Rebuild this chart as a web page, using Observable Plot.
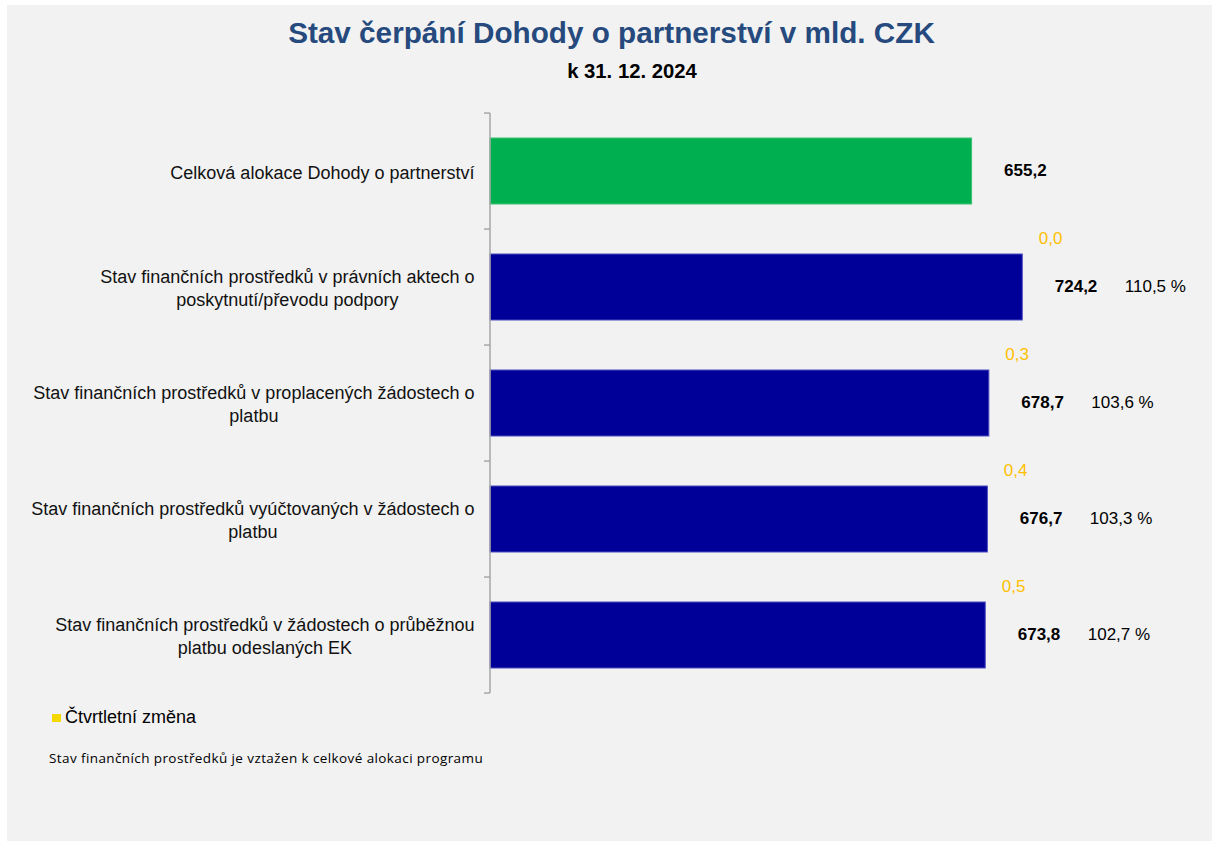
<!DOCTYPE html>
<html>
<head>
<meta charset="utf-8">
<script src="https://cdn.jsdelivr.net/npm/d3@7"></script>
<script src="https://cdn.jsdelivr.net/npm/@observablehq/plot@0.6"></script>
<style>
  html, body { margin: 0; padding: 0; background: #ffffff; }
  body { width: 1212px; height: 843px; position: relative; overflow: hidden; font-family: "Liberation Sans", Arial, sans-serif; }
  #panel { position: absolute; left: 7px; top: 5px; width: 1205px; height: 836px; background: #f2f2f2; }
  #title { position: absolute; left: 0; top: 18px; width: 1223px; text-align: center; font-size: 29.7px; line-height: 29px; font-weight: bold; color: #264a7e; }
  #subtitle { position: absolute; left: 0; top: 61px; width: 1264px; text-align: center; font-size: 20.3px; line-height: 20px; font-weight: bold; color: #000; }
  #chart { position: absolute; left: 0; top: 100px; }
  #legend { position: absolute; left: 52px; top: 706px; font-size: 18px; line-height: 22px; color: #000; display: flex; align-items: center; }
  #legend .sw { width: 9px; height: 8px; background: #f5d800; margin-right: 4px; margin-top: 1px; }
  #note { position: absolute; left: 49px; top: 748px; font-family: "Open Sans", sans-serif; font-size: 13.5px; letter-spacing: 0.4px; line-height: 20px; color: #000; }
</style>
</head>
<body>
<div id="panel"></div>
<div id="title">Stav čerpání Dohody o partnerství v mld. CZK</div>
<div id="subtitle">k 31. 12. 2024</div>
<div id="chart"></div>
<div id="legend"><span class="sw"></span><span>Čtvrtletní změna</span></div>
<div id="note">Stav finančních prostředků je vztažen k celkové alokaci programu</div>
<script>
// ---- data ----
const categories = [
  "Celková alokace Dohody o partnerství",
  "Stav finančních prostředků v právních aktech o\nposkytnutí/převodu podpory",
  "Stav finančních prostředků v proplacených žádostech o\nplatbu",
  "Stav finančních prostředků vyúčtovaných v žádostech o\nplatbu",
  "Stav finančních prostředků v žádostech o průběžnou\nplatbu odeslaných EK"
];
const values = [655.2, 724.2, 678.7, 676.7, 673.8];
const percents = [null, 110.5, 103.6, 103.3, 102.7];
const quarterlyChange = [null, 0.0, 0.3, 0.4, 0.5];

const data = categories.map((c, i) => ({
  category: c, value: values[i], pct: percents[i], change: quarterlyChange[i], idx: i
}));

const fmt = v => v.toFixed(1).replace(".", ",");
const GREEN = "#00b050", BLUE = "#000099", ORANGE = "#ffc000", AXIS = "#a6a6a6";
const FONT = "'Liberation Sans', Arial, sans-serif";
const LABEL_SIZE = 18;
const PAD_INNER = 0.43;

// measure label widths to center multi-line labels (as in the original)
const ctx = document.createElement("canvas").getContext("2d");
ctx.font = `${LABEL_SIZE}px 'Liberation Sans'`;
const labelWidths = categories.map(c => d3.max(c.split("\n"), l => ctx.measureText(l).width));

const axisTicks = (index, scales, values, dims) => {
  const y = scales.y;
  const step = y(categories[1]) - y(categories[0]);
  const half = step * PAD_INNER / 2;
  const x0 = dims.marginLeft;
  const g = d3.create("svg:g").attr("stroke", AXIS).attr("stroke-width", 1.5);
  const ys = categories.map(c => y(c) - half);
  ys.push(y(categories[categories.length - 1]) - half + step);
  for (const yy of ys) {
    g.append("line").attr("x1", x0 - 6).attr("x2", x0).attr("y1", yy).attr("y2", yy);
  }
  g.append("line").attr("x1", x0).attr("x2", x0).attr("y1", ys[0]).attr("y2", ys[ys.length - 1]);
  return g.node();
};

const chart = Plot.plot({
  width: 1212,
  height: 610,
  marginLeft: 490,
  marginRight: 134,
  marginTop: 13,
  marginBottom: 17,
  style: { background: "transparent", fontFamily: FONT, overflow: "visible" },
  x: { domain: [0, 800], axis: null },
  y: { domain: categories, axis: null, paddingInner: PAD_INNER, paddingOuter: PAD_INNER / 2 },
  marks: [
    Plot.barX(data, {
      x: "value", y: "category",
      fill: d => d.idx === 0 ? GREEN : BLUE,
      stroke: d => d.idx === 0 ? "#3cc070" : "#4c4cc0",
      strokeWidth: 1
    }),
    axisTicks,
    ...categories.map((c, i) => Plot.text([c], {
      y: d => d, text: d => d,
      frameAnchor: "left", textAnchor: "middle", lineAnchor: "middle",
      dx: -16 - labelWidths[i] / 2,
      fontSize: LABEL_SIZE, lineHeight: 1.28, fill: "#111"
    })),
    Plot.text(data, {
      x: "value", y: "category", text: d => fmt(d.value),
      dx: 32, dy: -1, textAnchor: "start", fontWeight: "bold", fontSize: 17, fill: "#000"
    }),
    Plot.text(data.filter(d => d.pct != null), {
      x: "value", y: "category", text: d => fmt(d.pct) + " %",
      dx: 102, dy: -1, textAnchor: "start", fontSize: 17, fill: "#000"
    }),
    Plot.text(data.filter(d => d.change != null), {
      x: "value", y: "category", text: d => fmt(d.change),
      dx: 16, dy: -49, textAnchor: "start", fontSize: 17, fill: ORANGE
    })
  ]
});
document.getElementById("chart").appendChild(chart);
</script>
</body>
</html>
